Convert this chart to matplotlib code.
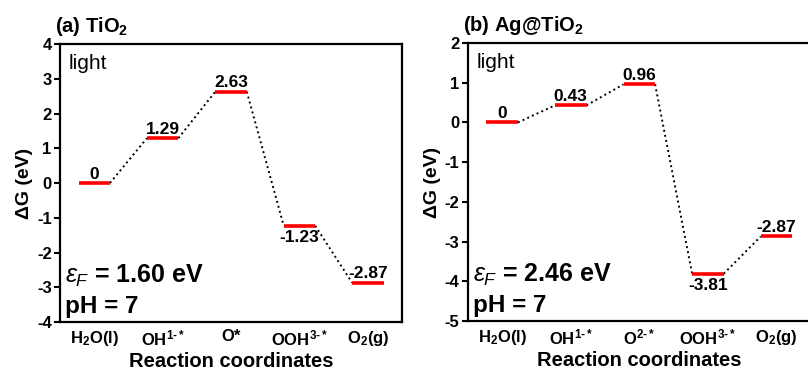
import numpy as np
import matplotlib
matplotlib.use("Agg")
import matplotlib.pyplot as plt

plt.rcParams['font.family'] = ['Liberation Sans', 'DejaVu Sans']
plt.rcParams['mathtext.fontset'] = 'custom'
plt.rcParams['mathtext.rm'] = 'Liberation Sans:bold'
plt.rcParams['mathtext.it'] = 'Liberation Sans:italic'
plt.rcParams['mathtext.bf'] = 'Liberation Sans:bold'
plt.rcParams['mathtext.default'] = 'bf'
plt.rcParams['axes.unicode_minus'] = False

steps_a = ['H$_2$O(l)', 'OH$^{1\\text{-}*}$', 'O*', 'OOH$^{3\\text{-}*}$', 'O$_2$(g)']
steps_b = ['H$_2$O(l)', 'OH$^{1\\text{-}*}$', 'O$^{2\\text{-}*}$', 'OOH$^{3\\text{-}*}$', 'O$_2$(g)']
dg_a = [0, 1.29, 2.63, -1.23, -2.87]
dg_b = [0, 0.43, 0.96, -3.81, -2.87]
label_a = ['0', '1.29', '2.63', '-1.23', '-2.87']
label_b = ['0', '0.43', '0.96', '-3.81', '-2.87']
ylim_a = (-4, 4)
ylim_b = (-5, 2)
eps_a = 1.60
eps_b = 2.46

fig = plt.figure(figsize=(8.08, 3.74), dpi=100)
ax_a = fig.add_axes([0.0743, 0.139, 0.4233, 0.7433])
ax_b = fig.add_axes([0.579, 0.1417, 0.4245, 0.7433])


def draw_panel(ax, steps, dg, labels, ylim, eps, title, below):
    half = 0.23
    x = np.arange(1, len(dg) + 1)
    for i, (xi, g) in enumerate(zip(x, dg)):
        ax.plot([xi - half, xi + half], [g, g], color='red', lw=2.6, solid_capstyle='butt', zorder=3)
        if i < len(dg) - 1:
            ax.plot([xi + half, x[i + 1] - half], [g, dg[i + 1]], color='black', ls=':', lw=1.4, zorder=2)
        if i in below:
            ax.annotate(labels[i], (xi, g), xytext=(0, -3), textcoords='offset points',
                        ha='center', va='top', fontsize=12.5, fontweight='bold')
        else:
            ax.annotate(labels[i], (xi, g), xytext=(0, 1), textcoords='offset points',
                        ha='center', va='bottom', fontsize=12.5, fontweight='bold')
    ax.set_xlim(0.5, 5.5)
    ax.set_ylim(*ylim)
    ax.set_yticks(np.arange(ylim[0], ylim[1] + 1))
    ax.set_xticks(x)
    ax.set_xticklabels(steps, fontsize=12, fontweight='bold')
    for lab in ax.get_yticklabels():
        lab.set_fontweight('bold')
        lab.set_fontsize(12)
    ax.tick_params(axis='x', length=0, pad=5)
    ax.tick_params(axis='y', length=4, width=1.5, pad=2)
    for s in ax.spines.values():
        s.set_linewidth(1.6)
    ax.set_ylabel('ΔG (eV)', fontsize=14, fontweight='bold', labelpad=3)
    ax.set_xlabel('Reaction coordinates', fontsize=14.5, fontweight='bold', labelpad=2)
    ax.text(-0.015, 1.02, title, transform=ax.transAxes, fontsize=14.5, fontweight='bold', va='bottom', ha='left')
    ax.text(0.025, 0.965, 'light', transform=ax.transAxes, fontsize=15, va='top', ha='left')
    ax.text(0.015, 0.165, '$\\mathit{\\varepsilon}_{\\mathit{F}}$ = %.2f eV' % eps, transform=ax.transAxes,
            fontsize=18, fontweight='bold', va='center', ha='left')
    ax.text(0.015, 0.055, 'pH = 7', transform=ax.transAxes, fontsize=17.5, fontweight='bold',
            va='center', ha='left')


draw_panel(ax_a, steps_a, dg_a, label_a, ylim_a, eps_a, '(a) TiO$_2$', below=[3])
draw_panel(ax_b, steps_b, dg_b, label_b, ylim_b, eps_b, '(b) Ag@TiO$_2$', below=[3])

fig.savefig('out.png', dpi=100)
